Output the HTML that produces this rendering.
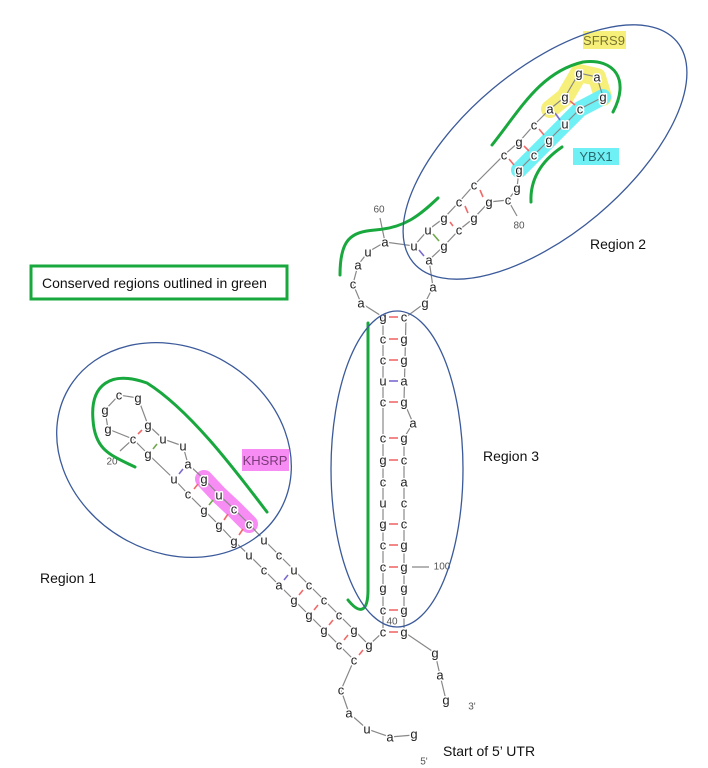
<!DOCTYPE html>
<html><head><meta charset="utf-8"><style>
body{margin:0;background:#fff}
svg{display:block}
.n{font-family:"Liberation Sans",sans-serif;font-size:13px;fill:#222;text-anchor:middle;dominant-baseline:central;paint-order:stroke;stroke:#fff;stroke-width:3px;stroke-linejoin:round}
.lab{font-family:"Liberation Sans",sans-serif;font-size:14px;fill:#111}
.bb{stroke:#888;stroke-width:1.2;fill:none}
</style></head><body>
<svg width="708" height="768" viewBox="0 0 708 768" xmlns="http://www.w3.org/2000/svg">
<polyline points="550,109 565,97 579,73 597,77 603,97" fill="none" stroke="#f6f07a" stroke-width="18" stroke-linecap="round" stroke-linejoin="round"/>
<polyline points="519,170 534,155 549,140 565,124 580,109 603,97" fill="none" stroke="#6ff0f4" stroke-width="16" stroke-linecap="round" stroke-linejoin="round"/>
<polyline points="204,479 219,495 234,509 249,524" fill="none" stroke="#f78cf5" stroke-width="18" stroke-linecap="round"/>
<rect x="242" y="449" width="47" height="22" fill="#f78cf5"/>
<rect x="583" y="31" width="43" height="18" fill="#f6f07a"/>
<rect x="573" y="148" width="46" height="17" fill="#6ff0f4"/>
<text class="lab" x="265" y="465" text-anchor="middle" style="font-size:13px;fill:#7a3a78">KHSRP</text>
<text class="lab" x="604" y="45" text-anchor="middle" style="font-size:13px;fill:#7a7530">SFRS9</text>
<text class="lab" x="596" y="161" text-anchor="middle" style="font-size:13px;fill:#2a6b70">YBX1</text>

<g class="bb">
<polyline points="414,735 390,737 367,729 349,713 341,690 354,660 339,645 324,630 309,615 294,600 279,585 264,570 249,555 234,541 219,525 204,510 188,494 174,479 148,454 133,439 108,429 105,410 119,395 138,398 148,425 163,439 183,446 188,464 204,479 219,495 234,509 249,524 264,540 279,555 294,570 309,585 324,600 339,615 354,630 369,645 383,632"/>
<line x1="133" y1="439" x2="120" y2="451"/>
<polyline points="383,632 383,317"/>
<polyline points="383,317 361,303 353,284 358,265 368,252 385,242 414,246 428,230 444,218 459,202 474,185 504,155 519,142 534,125 550,109 565,97 579,73 597,77 603,97 580,109 565,124 549,140 534,155 519,170 517,188 508,200 489,202 474,218 459,230 444,246 429,260 433,287 425,303 406,317"/>
<line x1="385" y1="242" x2="380" y2="218"/>
<line x1="508" y1="200" x2="517" y2="216"/>
<polyline points="406,317 404,402 413,423 404,438 404,632 435,653 440,675 446,700"/>
<line x1="412" y1="567" x2="429" y2="567"/>
</g>

<g stroke-width="1.6">
<g stroke="#f06a6a">
<line x1="142" y1="430" x2="138" y2="434"/>
<line x1="198" y1="484" x2="194" y2="489"/>
<line x1="228" y1="514" x2="224" y2="520"/>
<line x1="243" y1="529" x2="239" y2="535"/>
<line x1="303" y1="590" x2="299" y2="595"/>
<line x1="318" y1="605" x2="314" y2="610"/>
<line x1="333" y1="620" x2="329" y2="625"/>
<line x1="348" y1="635" x2="344" y2="640"/>
<line x1="363" y1="650" x2="359" y2="655"/>
<line x1="450" y1="222" x2="453" y2="226"/>
<line x1="465" y1="206" x2="468" y2="213"/>
<line x1="480" y1="190" x2="483" y2="197"/>
<line x1="509" y1="159" x2="514" y2="165"/>
<line x1="524" y1="146" x2="529" y2="151"/>
<line x1="539" y1="129" x2="544" y2="135"/>
<line x1="570" y1="101" x2="575" y2="105"/>
</g>
<g stroke="#6ea84a">
<line x1="157" y1="444" x2="153" y2="449"/>
<line x1="213" y1="500" x2="209" y2="505"/>
<line x1="433" y1="234" x2="439" y2="241"/>
</g>
<g stroke="#7a6ad0">
<line x1="183" y1="469" x2="179" y2="474"/>
<line x1="288" y1="575" x2="284" y2="580"/>
<line x1="419" y1="250" x2="424" y2="256"/>
<line x1="555" y1="113" x2="560" y2="120"/>
<line x1="389" y1="381" x2="398" y2="381"/>
</g>
<g stroke="#f06a6a">
<line x1="389" y1="317" x2="398" y2="317"/>
<line x1="389" y1="339" x2="398" y2="339"/>
<line x1="389" y1="360" x2="398" y2="360"/>
<line x1="389" y1="402" x2="398" y2="402"/>
<line x1="389" y1="438" x2="398" y2="438"/>
<line x1="389" y1="460" x2="398" y2="460"/>
<line x1="389" y1="524" x2="398" y2="524"/>
<line x1="389" y1="545" x2="398" y2="545"/>
<line x1="389" y1="567" x2="398" y2="567"/>
<line x1="389" y1="610" x2="398" y2="610"/>
<line x1="389" y1="632" x2="398" y2="632"/>
</g>
</g>

<g class="n">
<text x="119" y="395">c</text><text x="138" y="398">g</text><text x="105" y="410">g</text><text x="148" y="425">g</text>
<text x="108" y="429">g</text><text x="133" y="439">c</text><text x="163" y="439">u</text><text x="183" y="446">u</text>
<text x="148" y="454">g</text><text x="188" y="464">a</text><text x="174" y="479">u</text><text x="204" y="479">g</text>
<text x="188" y="494">c</text><text x="219" y="495">u</text><text x="204" y="510">g</text><text x="234" y="509">c</text>
<text x="219" y="525">g</text><text x="249" y="524">c</text><text x="234" y="541">g</text><text x="264" y="540">u</text>
<text x="249" y="555">u</text><text x="279" y="555">c</text><text x="264" y="570">c</text><text x="294" y="570">u</text>
<text x="279" y="585">a</text><text x="309" y="585">c</text><text x="294" y="600">g</text><text x="324" y="600">c</text>
<text x="309" y="615">g</text><text x="339" y="615">c</text><text x="324" y="630">g</text><text x="354" y="630">g</text>
<text x="339" y="645">c</text><text x="369" y="645">g</text><text x="354" y="660">c</text>
<text x="341" y="690">c</text><text x="349" y="713">a</text><text x="367" y="729">u</text><text x="390" y="737">a</text><text x="414" y="734">g</text>
<text x="435" y="653">g</text><text x="440" y="675">a</text><text x="446" y="700">g</text>
<text x="383" y="317">g</text><text x="383" y="339">c</text><text x="383" y="360">c</text><text x="383" y="381">u</text><text x="383" y="402">c</text>
<text x="383" y="438">c</text><text x="383" y="460">g</text><text x="383" y="482">c</text><text x="383" y="503">u</text><text x="383" y="524">g</text>
<text x="383" y="545">c</text><text x="383" y="567">c</text><text x="383" y="588">g</text><text x="383" y="610">c</text><text x="383" y="632">c</text>
<text x="404" y="317">c</text><text x="404" y="339">g</text><text x="404" y="360">g</text><text x="404" y="381">a</text><text x="404" y="402">g</text>
<text x="413" y="423">a</text>
<text x="404" y="438">g</text><text x="404" y="460">c</text><text x="404" y="482">a</text><text x="404" y="503">c</text><text x="404" y="524">c</text>
<text x="404" y="545">g</text><text x="404" y="567">g</text><text x="404" y="588">g</text><text x="404" y="610">g</text><text x="404" y="632">g</text>
<text x="361" y="303">a</text><text x="353" y="284">c</text><text x="358" y="265">a</text><text x="368" y="252">u</text><text x="385" y="242">a</text>
<text x="414" y="246">u</text><text x="428" y="230">u</text><text x="444" y="218">g</text><text x="459" y="202">c</text><text x="474" y="185">c</text>
<text x="504" y="155">c</text><text x="519" y="142">g</text><text x="534" y="125">c</text><text x="550" y="109">a</text><text x="565" y="97">g</text>
<text x="579" y="73">g</text><text x="597" y="77">a</text><text x="603" y="97">g</text><text x="580" y="109">c</text><text x="565" y="124">u</text>
<text x="549" y="140">g</text><text x="534" y="155">c</text><text x="519" y="170">g</text><text x="517" y="188">g</text><text x="508" y="200">c</text>
<text x="489" y="202">g</text><text x="474" y="218">g</text><text x="459" y="230">c</text><text x="444" y="246">g</text><text x="429" y="260">a</text>
<text x="433" y="287">a</text><text x="425" y="303">g</text>
</g>
<g class="n" style="font-size:10px;fill:#555">
<text x="112" y="462">20</text><text x="392" y="622">40</text><text x="379" y="210">60</text><text x="519" y="226">80</text>
<text x="442" y="567">100</text><text x="472" y="707">3'</text><text x="424" y="762">5'</text>
</g>

<g fill="none" stroke="#19a83e" stroke-width="3" stroke-linecap="round">
<path d="M135,467 C110,455 95,450 93,420 C90,385 110,370 147,383 C190,410 235,470 267,512"/>
<path d="M368,323 L368,590 C368,612 360,615 348,600"/>
<path d="M340,275 C340,240 350,232 375,230 C405,228 420,215 438,198"/>
<path d="M492,145 C520,110 540,72 583,62 C615,58 630,80 613,112"/>
<path d="M531,202 C530,180 540,162 562,147"/>
</g>

<g fill="none" stroke="#3b5a9a" stroke-width="1.3">
<ellipse cx="174" cy="450" rx="122" ry="102" transform="rotate(30 174 450)"/>
<ellipse cx="397" cy="469" rx="66" ry="158"/>
<ellipse cx="545" cy="152" rx="172" ry="82" transform="rotate(-40 545 152)"/>
</g>

<rect x="31" y="266" width="256" height="33" fill="none" stroke="#19a83e" stroke-width="3"/>
<text class="lab" x="42" y="288">Conserved regions outlined in green</text>
<text class="lab" x="40" y="583">Region 1</text>
<text class="lab" x="590" y="249">Region  2</text>
<text class="lab" x="483" y="461">Region 3</text>
<text class="lab" x="443" y="756">Start of 5’ UTR</text>
</svg>
</body></html>
